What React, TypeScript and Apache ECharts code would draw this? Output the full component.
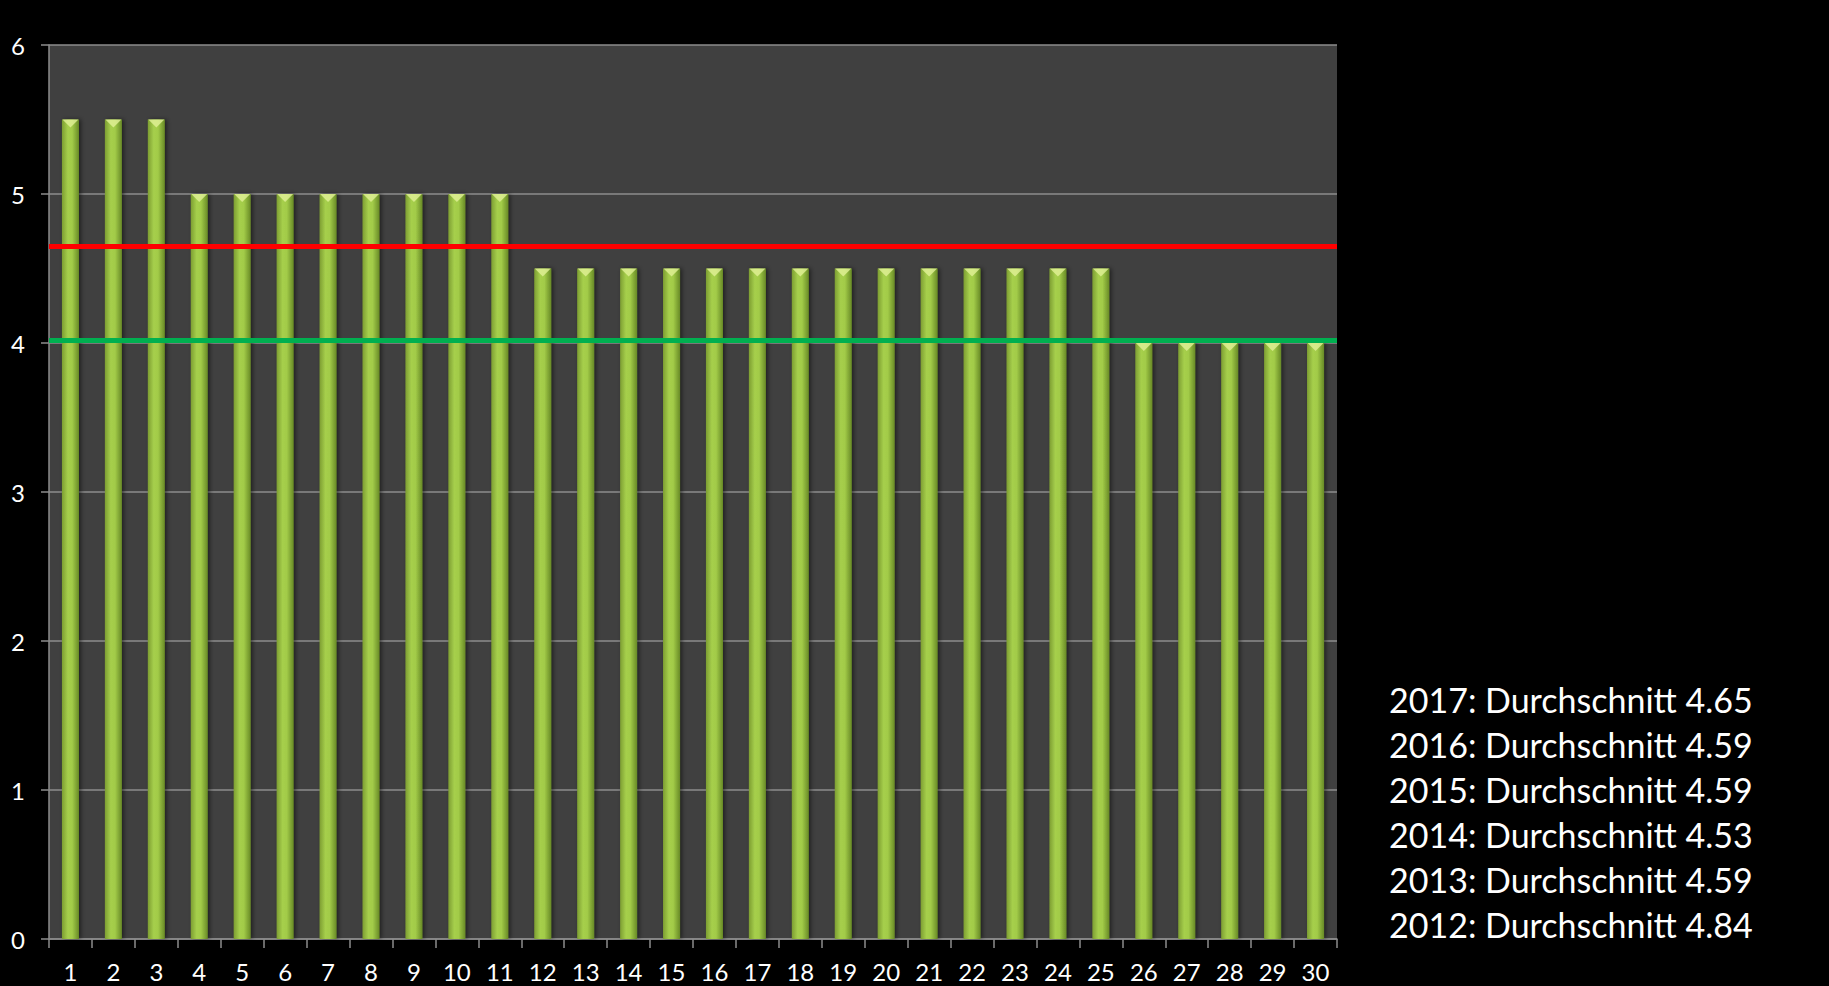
import React, { useEffect, useRef } from "react";
import * as echarts from "echarts";

const categories = Array.from({ length: 30 }, (_, i) => String(i + 1));
const values = [
  5.5, 5.5, 5.5, 5, 5, 5, 5, 5, 5, 5, 5, 4.5, 4.5, 4.5, 4.5, 4.5, 4.5, 4.5, 4.5,
  4.5, 4.5, 4.5, 4.5, 4.5, 4.5, 4, 4, 4, 4, 4,
];
const redLineValue = 4.65;
const greenLineValue = 4.02;
const averageTexts = [
  "2017: Durchschnitt 4.65",
  "2016: Durchschnitt 4.59",
  "2015: Durchschnitt 4.59",
  "2014: Durchschnitt 4.53",
  "2013: Durchschnitt 4.59",
  "2012: Durchschnitt 4.84",
];
const yMin = 0;
const yMax = 6;
const yInterval = 1;

const FONT = "Lato, 'Open Sans', sans-serif";

export default function App() {
  const ref = useRef<HTMLDivElement>(null);
  useEffect(() => {
    document.body.style.margin = "0";
    document.body.style.background = "#000";
    const chart = echarts.init(ref.current!, null, { renderer: "svg" });
    const grid = { left: 49, right: 492, top: 45, bottom: 47 };
    chart.setOption({
      animation: false,
      backgroundColor: "#000000",
      grid: { ...grid, show: true, backgroundColor: "#404040", borderWidth: 0 },
      xAxis: {
        type: "category",
        data: categories,
        axisLine: { show: true, lineStyle: { color: "#8c8c8c", width: 1.5 } },
        axisTick: { show: true, length: 9, lineStyle: { color: "#8c8c8c", width: 1.5 } },
        axisLabel: { color: "#ffffff", fontSize: 24, fontFamily: FONT, margin: 20 },
      },
      yAxis: {
        type: "value",
        min: yMin,
        max: yMax,
        interval: yInterval,
        axisLine: { show: true, lineStyle: { color: "#8c8c8c", width: 1.5 } },
        axisTick: { show: true, length: 8, lineStyle: { color: "#8c8c8c", width: 1.5 } },
        splitLine: { show: true, lineStyle: { color: "#8c8c8c", width: 1.5 } },
        axisLabel: { color: "#ffffff", fontSize: 24, fontFamily: FONT, margin: 24 },
      },
      series: [
        {
          type: "bar",
          data: values,
          barWidth: 17,
          itemStyle: {
            color: new echarts.graphic.LinearGradient(0, 0, 1, 0, [
              { offset: 0, color: "#7d9e32" },
              { offset: 0.35, color: "#a6cf4c" },
              { offset: 0.6, color: "#a2cb48" },
              { offset: 1, color: "#688a26" },
            ]),
            shadowColor: "rgba(0,0,0,0.5)",
            shadowBlur: 4,
            shadowOffsetX: 2,
          },
          markLine: {
            silent: true,
            symbol: "none",
            label: { show: false },
            data: [
              { yAxis: redLineValue, lineStyle: { color: "#ff0000", width: 5, type: "solid" } },
              { yAxis: greenLineValue, lineStyle: { color: "#00b050", width: 5, type: "solid" } },
            ],
          },
          z: 2,
        },
        {
          type: "scatter",
          data: values,
          symbol: "triangle",
          symbolRotate: 180,
          symbolSize: [16, 8],
          symbolOffset: [0, 4],
          itemStyle: { color: "#e2f199" },
          z: 3,
        },
      ],
      graphic: averageTexts.map((t, i) => ({
        type: "text",
        left: 1389,
        top: 703 + i * 45 - 21,
        style: { text: t, fill: "#ffffff", font: `34px ${FONT}` },
      })),
    });
    return () => chart.dispose();
  }, []);
  return (
    <div
      ref={ref}
      style={{ position: "fixed", left: 0, top: 0, width: 1829, height: 986, background: "#000" }}
    />
  );
}
